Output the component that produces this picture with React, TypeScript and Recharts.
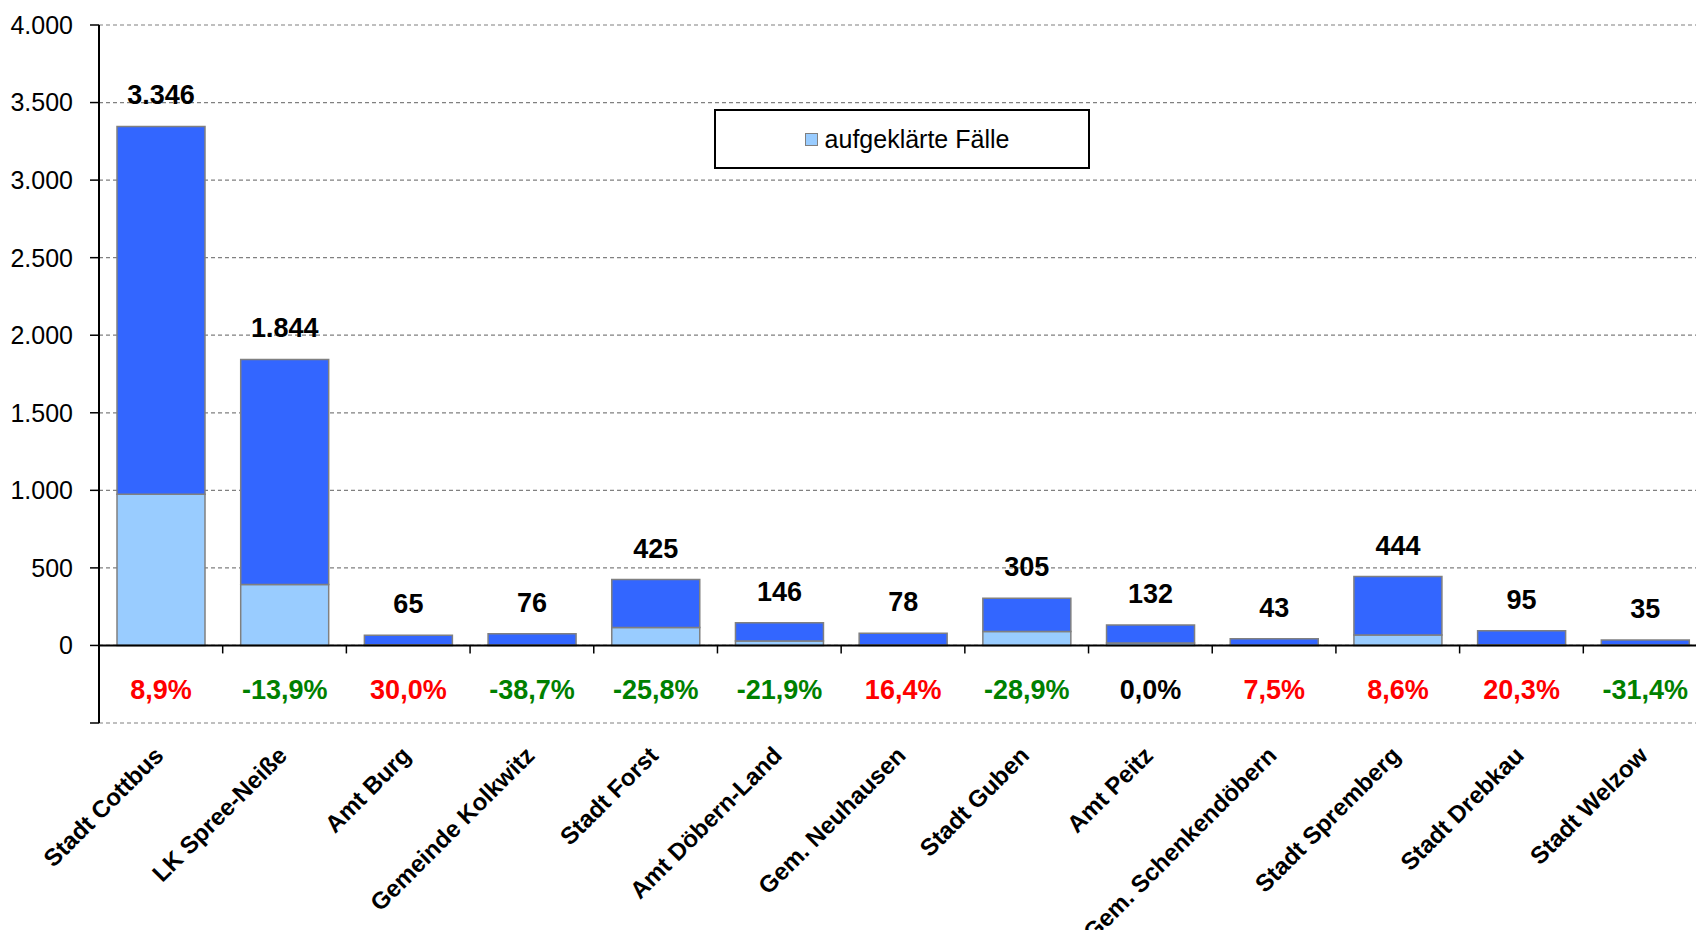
import React from "react";
import {
  BarChart,
  Bar,
  XAxis,
  YAxis,
  CartesianGrid,
  ReferenceLine,
  LabelList,
  Legend,
} from "recharts";

const categories = [
  "Stadt Cottbus",
  "LK Spree-Neiße",
  "Amt Burg",
  "Gemeinde Kolkwitz",
  "Stadt Forst",
  "Amt Döbern-Land",
  "Gem. Neuhausen",
  "Stadt Guben",
  "Amt Peitz",
  "Gem. Schenkendöbern",
  "Stadt Spremberg",
  "Stadt Drebkau",
  "Stadt Welzow",
];
const totalCases = [3346, 1844, 65, 76, 425, 146, 78, 305, 132, 43, 444, 95, 35];
const clearedCases = [975, 393, 4, 3, 116, 28, 3, 90, 15, 2, 67, 4, 3];
const changePct = [8.9, -13.9, 30.0, -38.7, -25.8, -21.9, 16.4, -28.9, 0.0, 7.5, 8.6, 20.3, -31.4];
const yTicks = [-500, 0, 500, 1000, 1500, 2000, 2500, 3000, 3500, 4000];

const data = categories.map((name, i) => ({
  name,
  cleared: clearedCases[i],
  rest: totalCases[i] - clearedCases[i],
  total: totalCases[i],
  pct: changePct[i],
}));

const FONT = "'Liberation Sans', Arial, Helvetica, sans-serif";
const CHART_W = 1712;
const CHART_H = 930;
const MARGIN = { top: 25, right: 5, bottom: 0, left: 0 };
const XAXIS_H = 207;
const Y_MIN = -500;
const Y_MAX = 4000;
const PLOT_H = CHART_H - MARGIN.top - MARGIN.bottom - XAXIS_H;

const fmtDe = (v: number) => v.toLocaleString("de-DE");
const fmtPct = (v: number) => v.toFixed(1).replace(".", ",") + "%";
const pctColor = (v: number) => (v > 0 ? "#FF0000" : v < 0 ? "#008000" : "#000000");

// x-axis sits at the bottom (-500), but the category line and its ticks are drawn at 0
const CategoryTick = (props: any) => {
  const { x, y, payload } = props;
  const half = payload?.offset ?? 0;
  const zeroY = y - (PLOT_H * (0 - Y_MIN)) / (Y_MAX - Y_MIN);
  return (
    <g>
      <line x1={x - half} x2={x - half} y1={zeroY} y2={zeroY + 8} stroke="#000" strokeWidth={1.5} />
      <text
        transform={`translate(${x + 4},${y + 34}) rotate(-45)`}
        textAnchor="end"
        fontFamily={FONT}
        fontWeight="bold"
        fontSize={24}
        fill="#000"
      >
        {payload.value}
      </text>
    </g>
  );
};

const TotalLabel = (props: any) => {
  const { x, y, width, value } = props;
  return (
    <text
      x={x + width / 2}
      y={y - 22}
      textAnchor="middle"
      fontFamily={FONT}
      fontWeight="bold"
      fontSize={27}
      fill="#000"
    >
      {fmtDe(value)}
    </text>
  );
};

const PctLabel = (props: any) => {
  const { x, y, width, height, value } = props;
  return (
    <text
      x={x + width / 2}
      y={y + height + 54}
      textAnchor="middle"
      fontFamily={FONT}
      fontWeight="bold"
      fontSize={27}
      fill={pctColor(value)}
    >
      {fmtPct(value)}
    </text>
  );
};

const LegendBox = () => (
  <div
    style={{
      width: 376,
      height: 60,
      boxSizing: "border-box",
      border: "2px solid #000",
      background: "#fff",
      display: "flex",
      alignItems: "center",
      justifyContent: "center",
      paddingLeft: 10,
      fontFamily: FONT,
      fontSize: 25,
      color: "#000",
    }}
  >
    <span
      style={{
        display: "inline-block",
        width: 13,
        height: 13,
        boxSizing: "border-box",
        background: "#99CCFF",
        border: "1.5px solid #808080",
        marginRight: 7,
      }}
    />
    aufgeklärte Fälle
  </div>
);

export default function App() {
  return (
    <div
      style={{
        position: "absolute",
        left: 0,
        top: 0,
        width: 1696,
        height: 930,
        overflow: "hidden",
        background: "#fff",
      }}
    >
      <BarChart width={CHART_W} height={CHART_H} data={data} margin={MARGIN}>
        <CartesianGrid vertical={false} stroke="#808080" strokeDasharray="4 3" strokeWidth={1.2} />
        <XAxis
          dataKey="name"
          height={XAXIS_H}
          axisLine={false}
          tickLine={false}
          tickSize={0}
          tickMargin={0}
          interval={0}
          tick={<CategoryTick />}
        />
        <YAxis
          width={99}
          domain={[Y_MIN, Y_MAX]}
          ticks={yTicks}
          interval={0}
          tickFormatter={(v: number) => (v < 0 ? "" : fmtDe(v))}
          axisLine={{ stroke: "#000", strokeWidth: 2 }}
          tickLine={{ stroke: "#000", strokeWidth: 1.5 }}
          tickSize={9}
          tickMargin={17}
          tick={{ fill: "#000", fontSize: 25, fontFamily: FONT }}
        />
        <Legend
          layout="horizontal"
          verticalAlign="middle"
          align="center"
          content={<LegendBox />}
          wrapperStyle={{ position: "absolute", left: 714, top: 109, width: 376, height: 60 }}
        />
        <Bar
          dataKey="cleared"
          name="aufgeklärte Fälle"
          stackId="a"
          fill="#99CCFF"
          stroke="#808080"
          strokeWidth={1.5}
          barSize={88}
          isAnimationActive={false}
        >
          <LabelList dataKey="pct" content={<PctLabel />} />
        </Bar>
        <Bar
          dataKey="rest"
          stackId="a"
          fill="#3366FF"
          stroke="#808080"
          strokeWidth={1.5}
          barSize={88}
          legendType="none"
          isAnimationActive={false}
        >
          <LabelList dataKey="total" content={<TotalLabel />} />
        </Bar>
        <ReferenceLine y={0} stroke="#000" strokeWidth={2} />
      </BarChart>
    </div>
  );
}
